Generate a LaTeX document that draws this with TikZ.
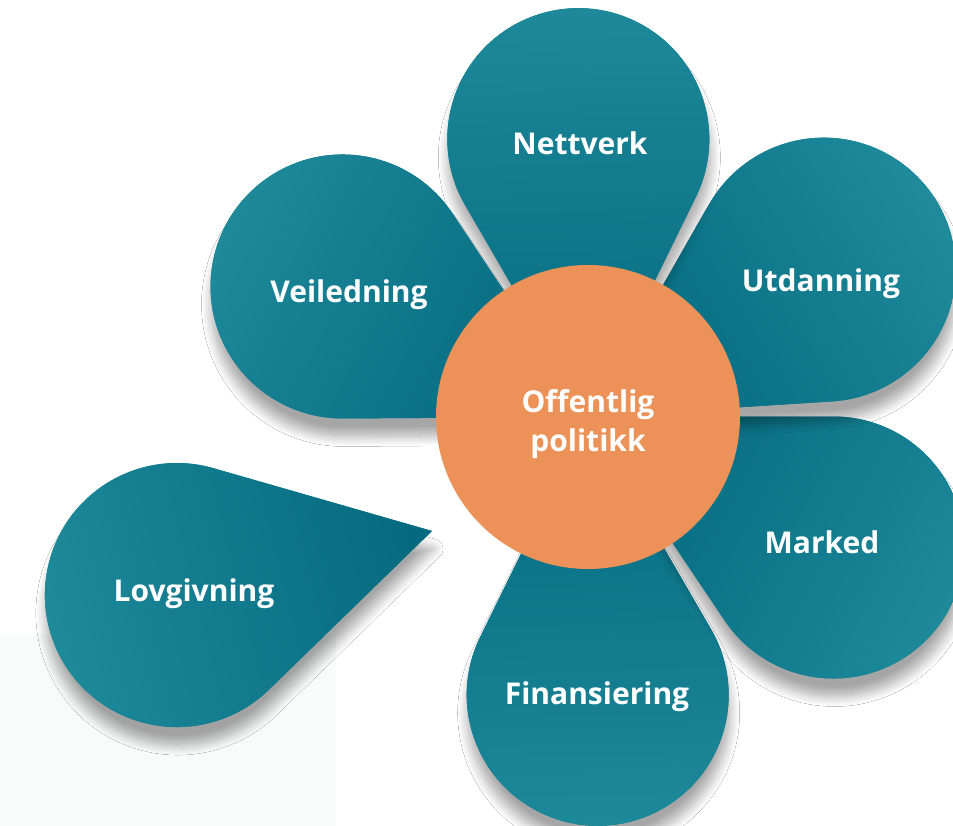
\documentclass[tikz,border=0pt]{standalone}
\usepackage{fontspec}
\setmainfont{Open Sans}
\usetikzlibrary{shadows.blur}
\definecolor{petalout}{RGB}{30,138,154}
\definecolor{petalmid}{RGB}{3,124,144}
\definecolor{petalin}{RGB}{4,106,128}
\definecolor{corecol}{RGB}{236,146,88}
\definecolor{paper}{RGB}{249,250,250}
\tikzset{
  petallabel/.style={text=white, font=\bfseries\fontsize{30}{36}\selectfont, anchor=base, inner sep=0pt},
  petalshade/.style={top color=petalout, middle color=petalmid, bottom color=petalin, shading angle=#1},
  petalshadow/.style={blur shadow={shadow xshift=1pt, shadow yshift=-18pt, shadow blur radius=10pt, shadow blur steps=12, shadow opacity=35}},
  petalbase/.style={preaction={fill=petalmid}},
  corecircle/.style={circle, fill=corecol, minimum size=304pt, inner sep=0pt},
}
% #1 tip x, #2 tip y, #3 direction from tip to bulb (deg), #4 bulb radius, #5 tip-to-bulb-centre distance
\newcommand\drawpetal[5]{%
  \pgfmathsetmacro\phiang{asin(#4/#5)}%
  \pgfmathsetmacro\bcx{#1+#5*cos(#3)}%
  \pgfmathsetmacro\bcy{#2+#5*sin(#3)}%
  \pgfmathsetmacro\angA{#3-90-\phiang}%
  \pgfmathsetmacro\angB{#3+90+\phiang}%
  \path[petalshadow, petalbase, petalshade={#3-90}] (#1,#2) -- ([shift={(\bcx,\bcy)}]\angA:#4)
      arc[start angle=\angA, end angle=\angB, radius=#4] -- cycle;}
\begin{document}
\begin{tikzpicture}[x=1pt, y=1pt]
  \fill[white] (0,0) rectangle (953,826);
  \useasboundingbox (0,0) rectangle (953,826);
  \fill[paper] (0,0) rectangle (336,191);
  % fallen petal
  \drawpetal{432}{295}{194.1}{132}{263}
  % flower petals, tips at the centre
  \drawpetal{588}{409}{-88}{131}{278}
  \drawpetal{588}{409}{-28}{131}{278}
  \drawpetal{588}{409}{32}{132}{278}
  \drawpetal{588}{409}{92}{131}{278}
  \drawpetal{588}{409}{152}{132}{278}
  \node[corecircle] (core) at (588,409) {};
  \node[petallabel] (lcore1) at (588,413) {Offentlig};
  \node[petallabel] (lcore2) at (588,374) {politikk};
  \node[petallabel] (lnett) at (580,671) {Nettverk};
  \node[petallabel] (lutd) at (821,534) {Utdanning};
  \node[petallabel] (lmark) at (822,272) {Marked};
  \node[petallabel] (lfin) at (597,121) {Finansiering};
  \node[petallabel] (lveil) at (349,523) {Veiledning};
  \node[petallabel] (llov) at (194,224) {Lovgivning};
\end{tikzpicture}
\end{document}
